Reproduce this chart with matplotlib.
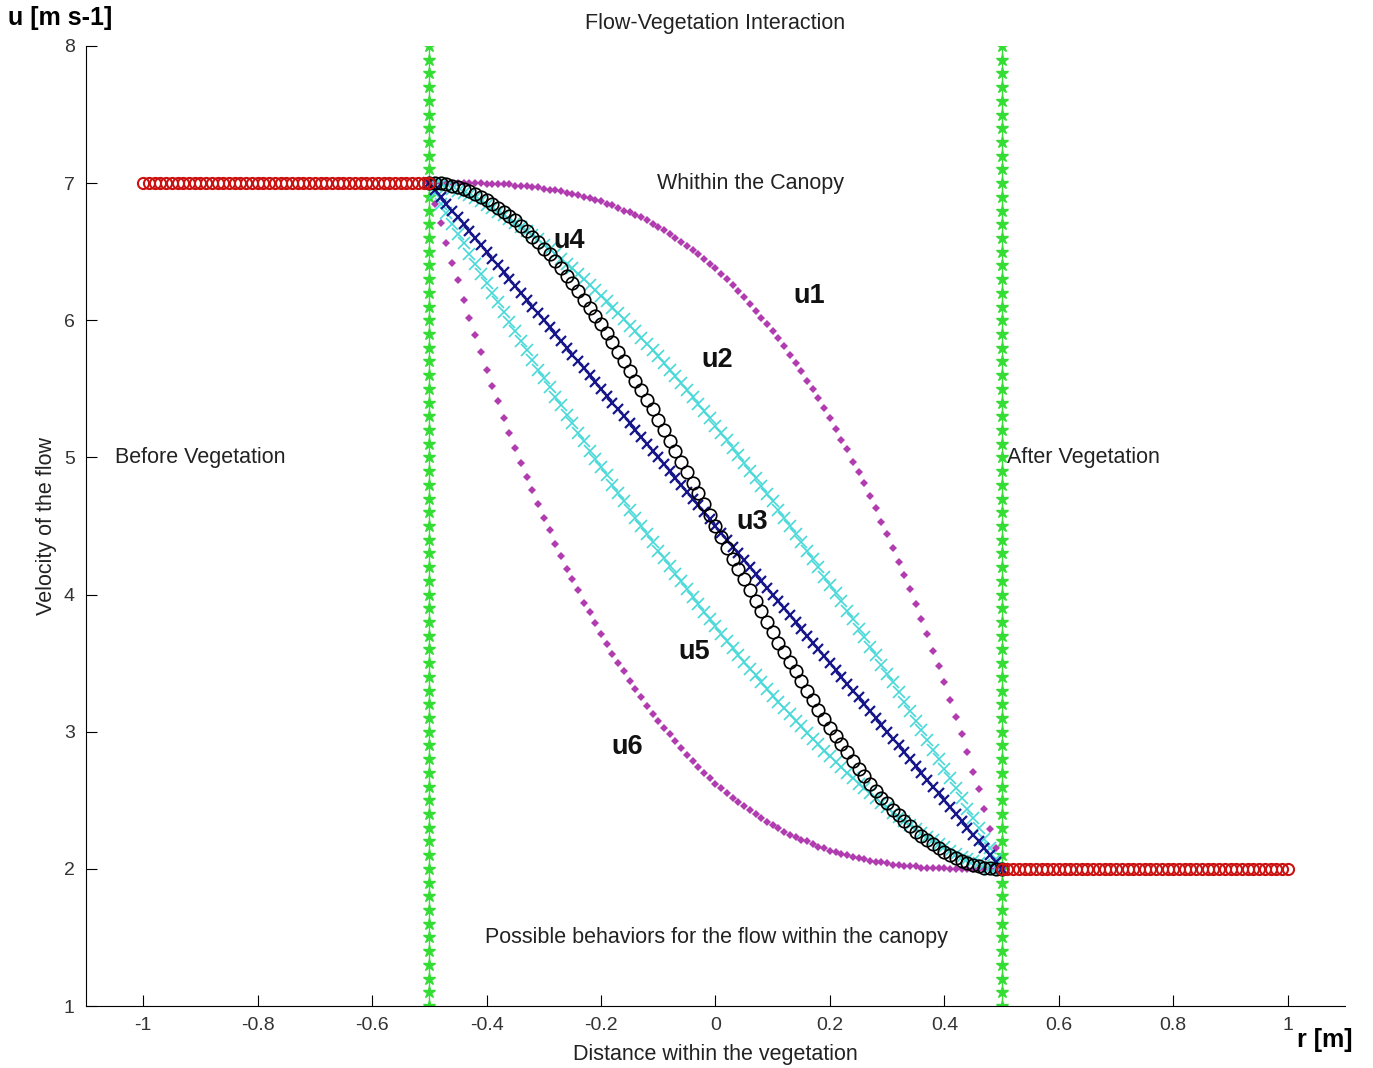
import numpy as np
import matplotlib
matplotlib.use('Agg')
import matplotlib.pyplot as plt

plt.rcParams['font.family'] = ['Liberation Sans', 'DejaVu Sans']

# flow outside the canopy
r_before = np.round(np.arange(-1.0, -0.495, 0.01), 2)
u_before = [7.0] * len(r_before)
r_after = np.round(np.arange(0.5, 1.005, 0.01), 2)
u_after = [2.0] * len(r_after)

# vegetation edges
edges = [-0.5, 0.5]
edge_y = np.round(np.arange(1.0, 8.01, 0.1), 1)

# possible profiles within the canopy (r from -0.5 to 0.5, step 0.01)
u1 = [7.00, 7.00, 7.00, 7.00, 7.00, 7.00, 7.00, 7.00, 7.00, 7.00,
      6.99, 6.99, 6.99, 6.99, 6.99, 6.98, 6.98, 6.98, 6.97, 6.97,
      6.96, 6.95, 6.95, 6.94, 6.93, 6.92, 6.91, 6.90, 6.89, 6.88,
      6.87, 6.85, 6.84, 6.82, 6.80, 6.79, 6.77, 6.75, 6.73, 6.70,
      6.68, 6.66, 6.63, 6.60, 6.57, 6.54, 6.51, 6.48, 6.45, 6.41,
      6.38, 6.34, 6.30, 6.26, 6.21, 6.17, 6.12, 6.07, 6.02, 5.97,
      5.92, 5.87, 5.81, 5.75, 5.69, 5.63, 5.56, 5.50, 5.43, 5.36,
      5.29, 5.21, 5.13, 5.06, 4.97, 4.89, 4.81, 4.72, 4.63, 4.53,
      4.44, 4.34, 4.24, 4.14, 4.04, 3.93, 3.82, 3.71, 3.59, 3.48,
      3.36, 3.23, 3.11, 2.98, 2.85, 2.71, 2.58, 2.44, 2.29, 2.15,
      2.00]
u2 = [7.00, 6.99, 6.99, 6.97, 6.96, 6.94, 6.93, 6.91, 6.89, 6.87,
      6.84, 6.82, 6.79, 6.77, 6.74, 6.71, 6.68, 6.65, 6.62, 6.59,
      6.55, 6.52, 6.48, 6.45, 6.41, 6.38, 6.34, 6.30, 6.26, 6.22,
      6.18, 6.14, 6.09, 6.05, 6.01, 5.96, 5.92, 5.87, 5.83, 5.78,
      5.74, 5.69, 5.64, 5.59, 5.54, 5.49, 5.44, 5.39, 5.34, 5.29,
      5.23, 5.18, 5.13, 5.07, 5.02, 4.96, 4.90, 4.85, 4.79, 4.73,
      4.68, 4.62, 4.56, 4.50, 4.44, 4.38, 4.32, 4.26, 4.20, 4.13,
      4.07, 4.01, 3.95, 3.88, 3.82, 3.75, 3.69, 3.62, 3.56, 3.49,
      3.42, 3.36, 3.29, 3.22, 3.15, 3.08, 3.01, 2.94, 2.87, 2.80,
      2.73, 2.66, 2.59, 2.52, 2.44, 2.37, 2.30, 2.22, 2.15, 2.07,
      2.00]
u3 = [7.00, 6.95, 6.90, 6.85, 6.80, 6.75, 6.70, 6.65, 6.60, 6.55,
      6.50, 6.45, 6.40, 6.35, 6.30, 6.25, 6.20, 6.15, 6.10, 6.05,
      6.00, 5.95, 5.90, 5.85, 5.80, 5.75, 5.70, 5.65, 5.60, 5.55,
      5.50, 5.45, 5.40, 5.35, 5.30, 5.25, 5.20, 5.15, 5.10, 5.05,
      5.00, 4.95, 4.90, 4.85, 4.80, 4.75, 4.70, 4.65, 4.60, 4.55,
      4.50, 4.45, 4.40, 4.35, 4.30, 4.25, 4.20, 4.15, 4.10, 4.05,
      4.00, 3.95, 3.90, 3.85, 3.80, 3.75, 3.70, 3.65, 3.60, 3.55,
      3.50, 3.45, 3.40, 3.35, 3.30, 3.25, 3.20, 3.15, 3.10, 3.05,
      3.00, 2.95, 2.90, 2.85, 2.80, 2.75, 2.70, 2.65, 2.60, 2.55,
      2.50, 2.45, 2.40, 2.35, 2.30, 2.25, 2.20, 2.15, 2.10, 2.05,
      2.00]
u4 = [7.00, 7.00, 7.00, 6.99, 6.98, 6.97, 6.96, 6.94, 6.92, 6.90,
      6.88, 6.85, 6.82, 6.79, 6.76, 6.73, 6.69, 6.65, 6.61, 6.57,
      6.52, 6.48, 6.43, 6.38, 6.32, 6.27, 6.21, 6.15, 6.09, 6.03,
      5.97, 5.91, 5.84, 5.77, 5.70, 5.63, 5.56, 5.49, 5.42, 5.35,
      5.27, 5.20, 5.12, 5.05, 4.97, 4.89, 4.81, 4.74, 4.66, 4.58,
      4.50, 4.42, 4.34, 4.26, 4.19, 4.11, 4.03, 3.95, 3.88, 3.80,
      3.73, 3.65, 3.58, 3.51, 3.44, 3.37, 3.30, 3.23, 3.16, 3.09,
      3.03, 2.97, 2.91, 2.85, 2.79, 2.73, 2.68, 2.62, 2.57, 2.52,
      2.48, 2.43, 2.39, 2.35, 2.31, 2.27, 2.24, 2.21, 2.18, 2.15,
      2.12, 2.10, 2.08, 2.06, 2.04, 2.03, 2.02, 2.01, 2.01, 2.00,
      2.00]
u5 = [7.00, 6.93, 6.85, 6.78, 6.70, 6.63, 6.56, 6.48, 6.41, 6.34,
      6.27, 6.20, 6.13, 6.06, 5.99, 5.92, 5.85, 5.78, 5.71, 5.64,
      5.58, 5.51, 5.44, 5.38, 5.31, 5.25, 5.18, 5.12, 5.05, 4.99,
      4.93, 4.87, 4.80, 4.74, 4.68, 4.62, 4.56, 4.50, 4.44, 4.38,
      4.32, 4.27, 4.21, 4.15, 4.10, 4.04, 3.98, 3.93, 3.87, 3.82,
      3.77, 3.71, 3.66, 3.61, 3.56, 3.51, 3.46, 3.41, 3.36, 3.31,
      3.26, 3.22, 3.17, 3.13, 3.08, 3.04, 2.99, 2.95, 2.91, 2.86,
      2.82, 2.78, 2.74, 2.70, 2.66, 2.62, 2.59, 2.55, 2.52, 2.48,
      2.45, 2.41, 2.38, 2.35, 2.32, 2.29, 2.26, 2.23, 2.21, 2.18,
      2.16, 2.13, 2.11, 2.09, 2.07, 2.06, 2.04, 2.03, 2.01, 2.01,
      2.00]
u6 = [7.00, 6.85, 6.71, 6.56, 6.42, 6.29, 6.15, 6.02, 5.89, 5.77,
      5.64, 5.52, 5.41, 5.29, 5.18, 5.07, 4.96, 4.86, 4.76, 4.66,
      4.56, 4.47, 4.37, 4.28, 4.19, 4.11, 4.03, 3.94, 3.87, 3.79,
      3.71, 3.64, 3.57, 3.50, 3.44, 3.37, 3.31, 3.25, 3.19, 3.13,
      3.08, 3.03, 2.98, 2.93, 2.88, 2.83, 2.79, 2.74, 2.70, 2.66,
      2.62, 2.59, 2.55, 2.52, 2.49, 2.46, 2.43, 2.40, 2.37, 2.34,
      2.32, 2.30, 2.27, 2.25, 2.23, 2.21, 2.20, 2.18, 2.16, 2.15,
      2.13, 2.12, 2.11, 2.10, 2.09, 2.08, 2.07, 2.06, 2.05, 2.05,
      2.04, 2.03, 2.03, 2.02, 2.02, 2.02, 2.01, 2.01, 2.01, 2.01,
      2.01, 2.00, 2.00, 2.00, 2.00, 2.00, 2.00, 2.00, 2.00, 2.00,
      2.00]

x_ticks = [-1, -0.8, -0.6, -0.4, -0.2, 0, 0.2, 0.4, 0.6, 0.8, 1]
x_ticklabels = ['-1', '-0.8', '-0.6', '-0.4', '-0.2', '0', '0.2', '0.4', '0.6', '0.8', '1']
y_ticks = [1, 2, 3, 4, 5, 6, 7, 8]

def grid(u):
    return np.linspace(-0.5, 0.5, len(u))

fig = plt.figure(figsize=(13.73, 10.68), dpi=100)
ax = fig.add_axes([0.0626, 0.058, 0.917, 0.899])

magenta = '#b03cb0'
cyan = '#48d8d8'
navy = '#16168a'

ax.plot(grid(u1), u1, 'D', color=magenta, ms=4, mew=0, zorder=3)
ax.plot(grid(u6), u6, 'D', color=magenta, ms=4, mew=0, zorder=3)
ax.plot(grid(u2), u2, 'x', color=cyan, ms=8.5, mew=1.2, zorder=3)
ax.plot(grid(u5), u5, 'x', color=cyan, ms=8.5, mew=1.2, zorder=3)
ax.plot(grid(u3), u3, 'x', color=navy, ms=7.5, mew=1.6, zorder=4)
ax.plot(grid(u4), u4, 'o', mfc='none', mec='black', ms=9, mew=1.2, zorder=5)

for e in edges:
    ax.plot([e] * len(edge_y), edge_y, '-*', color='#33dd33', ms=9, lw=1, zorder=2)

ax.plot(r_before, u_before, 'o', mfc='none', mec='#cc1111', ms=8, mew=1.5, zorder=6)
ax.plot(r_after, u_after, 'o', mfc='none', mec='#cc1111', ms=8, mew=1.5, zorder=6)

ax.set_xlim(-1.1, 1.1)
ax.set_ylim(1, 8)
ax.set_xticks(x_ticks)
ax.set_xticklabels(x_ticklabels)
ax.set_yticks(y_ticks)
ax.tick_params(direction='in', length=8, labelsize=14, pad=8,
               colors='black', labelcolor='#333333')
ax.spines['top'].set_visible(False)
ax.spines['right'].set_visible(False)

txt = dict(fontsize=15.5, color='#222222')
ax.set_title('Flow-Vegetation Interaction', fontsize=15.5, color='#222222', pad=12)
ax.set_xlabel('Distance within the vegetation', fontsize=15.5, color='#222222', labelpad=7)
ax.set_ylabel('Velocity of the flow', fontsize=15.5, color='#222222', labelpad=5)
ax.text(-0.103, 7.0, 'Whithin the Canopy', va='center', **txt)
ax.text(-1.049, 5.0, 'Before Vegetation', va='center', **txt)
ax.text(0.509, 5.0, 'After Vegetation', va='center', **txt)
ax.text(-0.402, 1.5, 'Possible behaviors for the flow within the canopy', va='center', **txt)

lab = dict(fontsize=19.5, fontweight='bold', ha='center', va='center', color='#111111')
ax.text(0.163, 6.18, 'u1', **lab)
ax.text(0.003, 5.71, 'u2', **lab)
ax.text(0.065, 4.53, 'u3', **lab)
ax.text(-0.255, 6.58, 'u4', **lab)
ax.text(-0.038, 3.58, 'u5', **lab)
ax.text(-0.154, 2.89, 'u6', **lab)

fig.text(0.006, 0.983, 'u [m s-1]', fontsize=18, fontweight='bold', va='center')
fig.text(0.945, 0.026, 'r [m]', fontsize=18, fontweight='bold', va='center')

fig.savefig('out.png', dpi=100)
